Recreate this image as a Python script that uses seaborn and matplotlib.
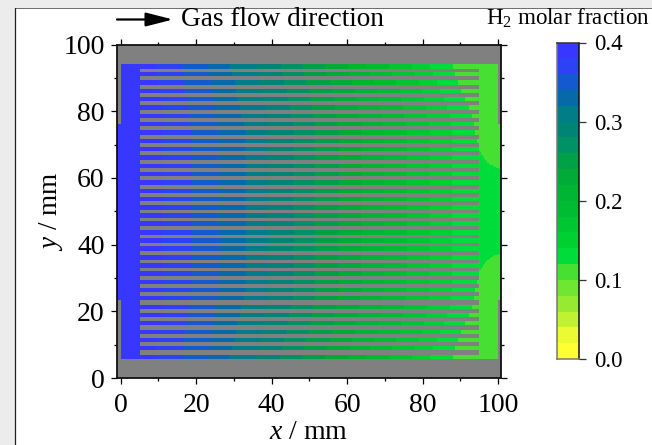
import numpy as np
import matplotlib
matplotlib.use("Agg")
import matplotlib.pyplot as plt
from matplotlib.colors import ListedColormap
from matplotlib.lines import Line2D
from matplotlib.patches import Rectangle
import seaborn as sns

W, H = 652, 445

# distance from the plate centre line (mm) of the rows
row_offset = [0, 24, 29, 36, 44]

# x position (mm) of each level boundary from 0.38 down to 0.14, one list per row
edges_dy0  = [10.8, 18.8, 26.0, 33.2, 38.9, 45.9, 51.7, 57.8, 63.8, 69.8, 75.9, 82.0, 87.8]
edges_dy24 = [10.8, 18.8, 26.0, 33.2, 38.9, 45.9, 51.7, 57.8, 63.8, 69.8, 75.9, 82.0, 87.8]
edges_dy29 = [11.1, 18.0, 24.9, 32.0, 38.9, 45.0, 50.9, 57.0, 63.1, 69.2, 75.1, 81.1, 87.3]
edges_dy36 = [10.3, 17.0, 24.1, 30.7, 36.9, 44.0, 49.9, 56.0, 62.1, 67.9, 74.0, 79.9, 84.6]
edges_dy44 = [9.2, 16.1, 23.0, 28.9, 36.0, 42.2, 48.0, 54.1, 60.0, 64.9, 70.8, 77.0, 81.9]

# outline of the 0.12 boundary, which also crosses the outlet manifold
front_offset = [0, 13, 13.3, 14, 14.8, 16.3, 18.3, 24, 29, 36, 44]
front_x = [130, 100, 99.2, 98.1, 97, 96.1, 95, 93.9, 93.1, 90.2, 87.8]

# plate geometry (mm)
field_top, field_bottom = 94.2, 5.7
side_top, side_bottom = 76.3, 23.6
rib_start, rib_end = 4.9, 95.0
rib_first, rib_pitch, rib_count, rib_width = 92.3, 2.49, 35, 1.15

x_ticks = [0, 20, 40, 60, 80, 100]
x_minor = [10, 30, 50, 70, 90]
y_ticks = [0, 20, 40, 60, 80, 100]
y_minor = [10, 30, 50, 70, 90]
cbar_ticks = [0.0, 0.1, 0.2, 0.3, 0.4]
cbar_labels = ["0.0", "0.1", "0.2", "0.3", "0.4"]

level_colors = [
    (255, 255, 50), (235, 250, 50), (192, 242, 50), (150, 235, 50), (110, 230, 50),
    (70, 224, 50), (0, 220, 58), (0, 208, 50), (0, 198, 50), (0, 188, 50),
    (0, 180, 52), (0, 172, 55), (0, 160, 70), (0, 145, 100), (0, 132, 118),
    (0, 125, 135), (5, 105, 170), (18, 90, 205), (45, 65, 245), (55, 55, 255),
]

sns.set_theme(style="white")
plt.rcParams["font.family"] = ["Liberation Serif", "DejaVu Serif"]
plt.rcParams["mathtext.fontset"] = "custom"
plt.rcParams["mathtext.rm"] = "Liberation Serif"
plt.rcParams["mathtext.it"] = "Liberation Serif:italic"
plt.rcParams["text.color"] = "black"
plt.rcParams["axes.labelcolor"] = "black"
plt.rcParams["xtick.color"] = "black"
plt.rcParams["ytick.color"] = "black"

# gridded field, rows from top to bottom
dx, dy = 0.2, 0.25
x_low, x_high = -1.0, 100.8
x_c = x_low + dx * (np.arange(round((x_high - x_low) / dx)) + 0.5)
y_c = 100 - dy * (np.arange(round(100 / dy)) + 0.5)

table = np.array([edges_dy0, edges_dy24, edges_dy29, edges_dy36, edges_dy44])


def level_count(offset, xs):
    row_edges = [np.interp(offset, row_offset, table[:, k]) for k in range(table.shape[1])]
    row_edges.append(np.interp(offset, front_offset, front_x))
    return np.searchsorted(row_edges, xs, side="right")


field = np.zeros((y_c.size, x_c.size))
for i, y in enumerate(y_c):
    channel = np.floor((rib_first - y) / rib_pitch) + 0.5
    snapped = abs(rib_first - channel * rib_pitch - 50)
    count = np.where(x_c < rib_end, level_count(snapped, x_c), level_count(abs(y - 50), x_c))
    field[i] = 0.39 - 0.02 * count

X, Y = np.meshgrid(x_c, y_c)
mask = (Y > field_top) | (Y < field_bottom)
mask |= ((X < 0) | (X > 100)) & ((Y > side_top) | (Y < side_bottom))
for k in range(rib_count):
    centre = rib_first - k * rib_pitch
    mask |= (np.abs(Y - centre) < rib_width / 2) & (X > rib_start) & (X < rib_end)

fig = plt.figure(figsize=(W / 100, H / 100), dpi=100, facecolor="white")
# page chrome around the figure in the screenshot
fig.add_artist(Rectangle((0, 1 - 7.5 / H), 1, 7.5 / H, transform=fig.transFigure, color="#ececec", lw=0))
fig.add_artist(Rectangle((0, 0), 14.5 / W, 1, transform=fig.transFigure, color="#ececec", lw=0))
fig.add_artist(Line2D([15 / W, 1], [1 - 7.5 / H, 1 - 7.5 / H], transform=fig.transFigure, color="#555555", lw=0.6))
fig.add_artist(Line2D([15 / W, 15 / W], [0, 1 - 7.5 / H], transform=fig.transFigure, color="#222222", lw=0.9))


def box(l, t, r, b):
    return [l / W, 1 - b / H, (r - l) / W, (b - t) / H]


ax = fig.add_axes(box(117, 44.5, 501, 378))
cax = fig.add_axes(box(556.5, 42.5, 579, 359))
cmap = ListedColormap([tuple(c / 255 for c in col) for col in level_colors])
sns.heatmap(field, ax=ax, cbar_ax=cax, mask=mask, cmap=cmap, vmin=0, vmax=0.4,
            xticklabels=False, yticklabels=False, cbar_kws={"ticks": cbar_ticks})
ax.set_facecolor("#808080")

to_col = lambda v: (np.asarray(v, float) - x_low) / dx
to_row = lambda v: (100 - np.asarray(v, float)) / dy
ax.set_xticks(to_col(x_ticks))
ax.set_xticklabels([str(v) for v in x_ticks])
ax.set_xticks(to_col(x_minor), minor=True)
ax.set_yticks(to_row(y_ticks))
ax.set_yticklabels([str(v) for v in y_ticks], rotation=0)
ax.set_yticks(to_row(y_minor), minor=True)
ax.tick_params(which="major", direction="out", length=4, width=0.9, color="black",
               top=True, right=True, bottom=True, left=True, labelsize=20)
ax.tick_params(axis="x", which="major", pad=7)
ax.tick_params(axis="y", which="major", pad=5)
ax.tick_params(which="minor", direction="out", length=2, width=0.9, color="black",
               top=True, right=True, bottom=True, left=True)
for s in ax.spines.values():
    s.set_visible(True)
    s.set_color("#111111")
    s.set_linewidth(1.3)
ax.set_xlabel("$x$ / mm", fontsize=20, labelpad=1)
ax.set_ylabel("$y$ / mm", fontsize=19.5, labelpad=-1)

cbar = ax.collections[0].colorbar
cbar.outline.set_visible(False)
cax.tick_params(which="major", direction="out", length=5, width=0.9, color="#333333",
                labelsize=16.5, pad=6, right=True)
cax.minorticks_off()
cax.set_yticklabels(cbar_labels)
for side, colour in (("left", "#777777"), ("top", "#333333"), ("bottom", "#777777"), ("right", "#111111")):
    cax.spines[side].set_visible(True)
    cax.spines[side].set_color(colour)
    cax.spines[side].set_linewidth(1.1)

fig.text(181 / W, 1 - 19.5 / H, "Gas flow direction", fontsize=19.6, va="center", ha="left")
fig.text(650 / W, 1 - 18 / H, r"H$_2$ molar fraction", fontsize=16.6, va="center", ha="right")
fig.add_artist(plt.Annotation("", xy=(173 / W, 1 - 19.5 / H), xytext=(117 / W, 1 - 19.5 / H),
                              xycoords="figure fraction", textcoords="figure fraction",
                              arrowprops=dict(arrowstyle="-|>,head_length=1.65,head_width=0.42",
                                              mutation_scale=10, lw=1.6, color="black",
                                              shrinkA=0, shrinkB=0)))

fig.savefig("out.png", dpi=100)
